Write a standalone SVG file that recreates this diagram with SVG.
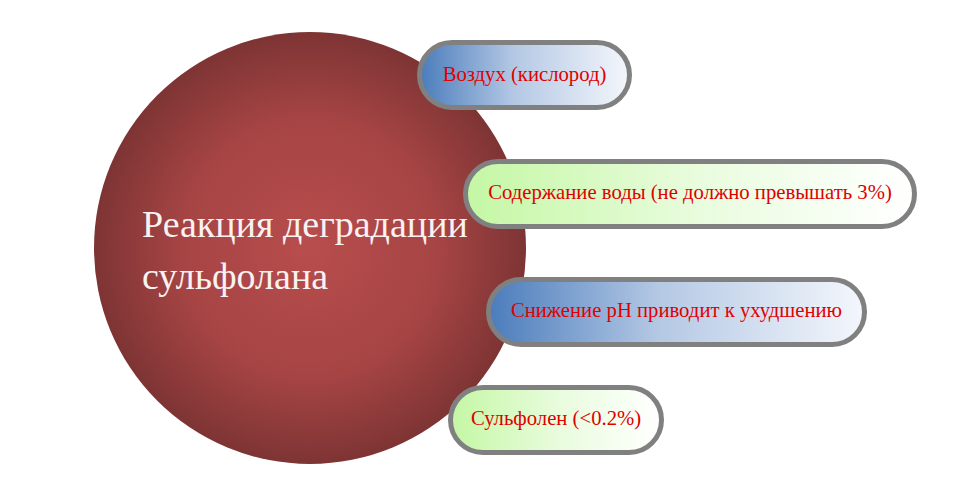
<svg xmlns="http://www.w3.org/2000/svg" width="968" height="493" viewBox="0 0 968 493">
<defs>
<radialGradient id="gCircle" cx="0.5" cy="0.5" r="0.5">
<stop offset="0" stop-color="#b84d4d"/>
<stop offset="0.6" stop-color="#a64444"/>
<stop offset="1" stop-color="#7e3434"/>
</radialGradient>
<linearGradient id="gBlue" x1="0" y1="0" x2="1" y2="0">
<stop offset="0" stop-color="#4a7cbc"/>
<stop offset="0.45" stop-color="#b4c8e4"/>
<stop offset="1" stop-color="#f4f7fc"/>
</linearGradient>
<linearGradient id="gGreen" x1="0" y1="0" x2="1" y2="0">
<stop offset="0" stop-color="#c4f7a4"/>
<stop offset="0.5" stop-color="#e8fcdc"/>
<stop offset="1" stop-color="#ffffff"/>
</linearGradient>
</defs>
<style>
.pill{stroke:#808080;stroke-width:5}
.lbl{font-family:"Liberation Serif","Times New Roman",serif;font-size:20.7px;fill:#e00000;text-anchor:middle}
.main{font-family:"Liberation Serif","Times New Roman",serif;font-size:38px;fill:#f8f2f2}
</style>
<rect width="968" height="493" fill="#ffffff"/>
<g id="center">
<circle cx="310" cy="248" r="216" fill="url(#gCircle)"/>
<text class="main" x="142" y="237">Реакция деградации</text>
<text class="main" x="142" y="289">сульфолана</text>
</g>
<g id="connectors"></g>
<g id="n1">
<rect class="pill" x="419.5" y="42.5" width="210" height="65" rx="32.5" fill="url(#gBlue)"/>
<text class="lbl" x="524.5" y="81">Воздух (кислород)</text>
</g>
<g id="n2">
<rect class="pill" x="465.5" y="161.5" width="449" height="65" rx="32.5" fill="url(#gGreen)"/>
<text class="lbl" x="690" y="199">Содержание воды (не должно превышать 3%)</text>
</g>
<g id="n3">
<rect class="pill" x="488.5" y="279.5" width="376" height="65" rx="32.5" fill="url(#gBlue)"/>
<text class="lbl" x="676.5" y="317">Снижение pH приводит к ухудшению</text>
</g>
<g id="n4">
<rect class="pill" x="450.5" y="387.5" width="211" height="65" rx="32.5" fill="url(#gGreen)"/>
<text class="lbl" x="556" y="425">Сульфолен (&lt;0.2%)</text>
</g>
</svg>
